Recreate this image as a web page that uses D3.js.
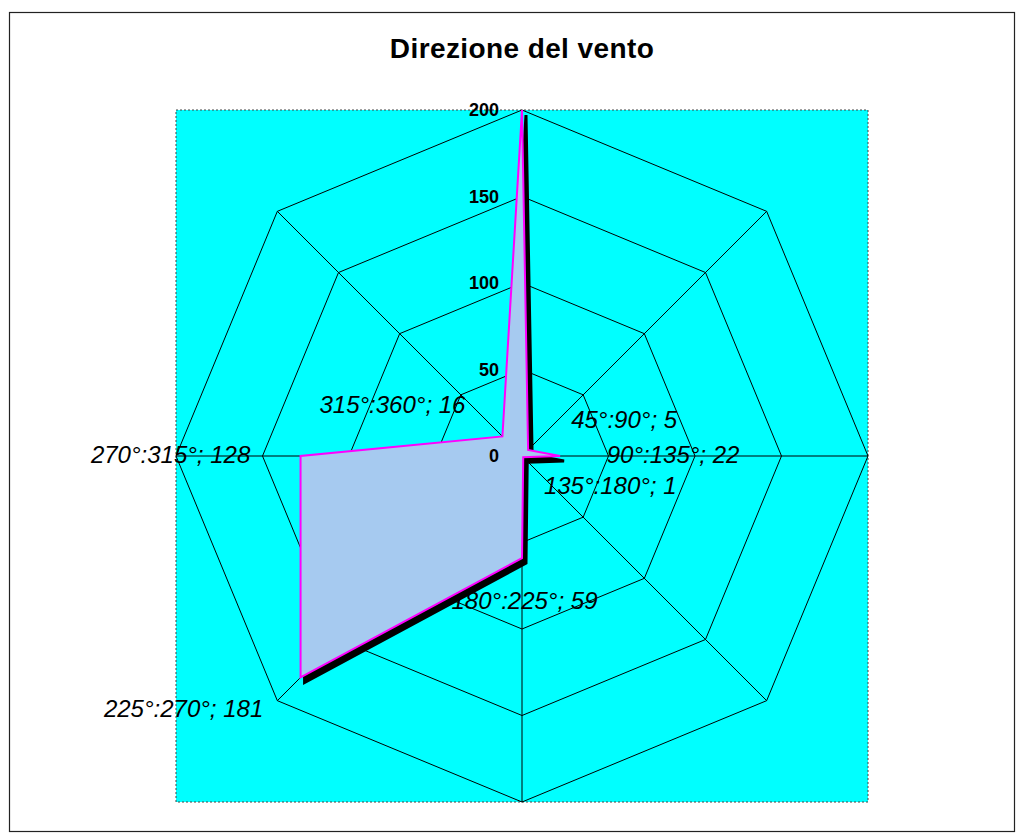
<!DOCTYPE html>
<html>
<head>
<meta charset="utf-8">
<script src="https://cdn.jsdelivr.net/npm/d3@7"></script>
<style>
  body { margin: 0; background: #fff; }
  svg { display: block; font-family: "Liberation Sans", Arial, sans-serif; }
</style>
</head>
<body>
<div id="canvas"></div>
<script>
// data
const categories = ["0°:45°", "45°:90°", "90°:135°", "135°:180°", "180°:225°", "225°:270°", "270°:315°", "315°:360°"];
const values = [200, 5, 22, 1, 59, 181, 128, 16];
const ticks = [0, 50, 100, 150, 200];
const showLabel = [false, true, true, true, true, true, true, true];

// label nudges (layout only), relative to the data point
const labelNudge = [[0, -30], [96, -30], [113, -1.5], [87, 28], [2.5, 42.5], [-117, 31], [-130, -1.5], [-110, -32]];

const width = 1023;
const height = 839;
const cx = 522, cy = 456;
const radius = 346;

const svg = d3.select("#canvas").append("svg")
    .attr("width", width)
    .attr("height", height);

// chart border
svg.append("rect")
    .attr("x", 9.5).attr("y", 12.5)
    .attr("width", 1005).attr("height", 819)
    .attr("fill", "#fff")
    .attr("stroke", "#222")
    .attr("stroke-width", 1.2);

svg.append("text")
    .attr("x", cx).attr("y", 58)
    .attr("text-anchor", "middle")
    .style("font-size", "28px")
    .style("font-weight", "bold")
    .style("letter-spacing", "0.4px")
    .text("Direzione del vento");

// plot area
svg.append("rect")
    .attr("x", cx - radius).attr("y", cy - radius)
    .attr("width", radius * 2).attr("height", radius * 2)
    .attr("fill", "#00ffff")
    .attr("stroke", "#444")
    .attr("stroke-width", 1)
    .attr("stroke-dasharray", "2,2");

const r = d3.scaleLinear().domain([0, 200]).range([0, radius]);
const angle = d3.scaleLinear().domain([0, categories.length]).range([0, 2 * Math.PI]);

const g = svg.append("g").attr("transform", `translate(${cx},${cy})`);

// data labels (drawn under the grid like in the original)
const pts = values.map((v, i) => [r(v) * Math.sin(angle(i)), -r(v) * Math.cos(angle(i))]);

g.append("g").selectAll("text")
    .data(categories.map((c, i) => ({ c, v: values[i], i })).filter(d => showLabel[d.i]))
    .enter().append("text")
    .attr("x", d => pts[d.i][0] + labelNudge[d.i][0])
    .attr("y", d => pts[d.i][1] + labelNudge[d.i][1])
    .attr("dy", "0.35em")
    .attr("text-anchor", "middle")
    .style("font-size", "24px")
    .style("font-style", "italic")
    .text(d => `${d.c}; ${d.v}`);

// grid
const gridLine = d3.lineRadial()
    .angle((d, i) => angle(i))
    .radius(d => r(d))
    .curve(d3.curveLinearClosed);

g.append("g").selectAll("path")
    .data(ticks.filter(t => t > 0))
    .enter().append("path")
    .attr("d", t => gridLine(categories.map(() => t)))
    .attr("fill", "none")
    .attr("stroke", "#000")
    .attr("stroke-width", 1);

g.append("g").selectAll("line")
    .data(categories)
    .enter().append("line")
    .attr("x1", 0).attr("y1", 0)
    .attr("x2", (d, i) => r(200) * Math.sin(angle(i)))
    .attr("y2", (d, i) => -r(200) * Math.cos(angle(i)))
    .attr("stroke", "#000")
    .attr("stroke-width", 1);

// series (with Excel-like drop shadow)
const seriesLine = d3.lineRadial()
    .angle((d, i) => angle(i))
    .radius(d => r(d))
    .curve(d3.curveLinearClosed);

g.append("path")
    .attr("d", seriesLine(values))
    .attr("transform", "translate(4,5)")
    .attr("fill", "#000")
    .attr("stroke", "#000")
    .attr("stroke-width", 3)
    .attr("stroke-linejoin", "miter");

g.append("path")
    .attr("d", seriesLine(values))
    .attr("fill", "#a6caf0")
    .attr("stroke", "#ff00ff")
    .attr("stroke-width", 2)
    .attr("stroke-linejoin", "miter");

// value axis tick labels
g.append("g").selectAll("text")
    .data(ticks)
    .enter().append("text")
    .attr("x", -23)
    .attr("y", t => -r(t))
    .attr("dy", "0.35em")
    .attr("text-anchor", "end")
    .style("font-size", "18px")
    .style("font-weight", "bold")
    .text(t => t);
</script>
</body>
</html>
